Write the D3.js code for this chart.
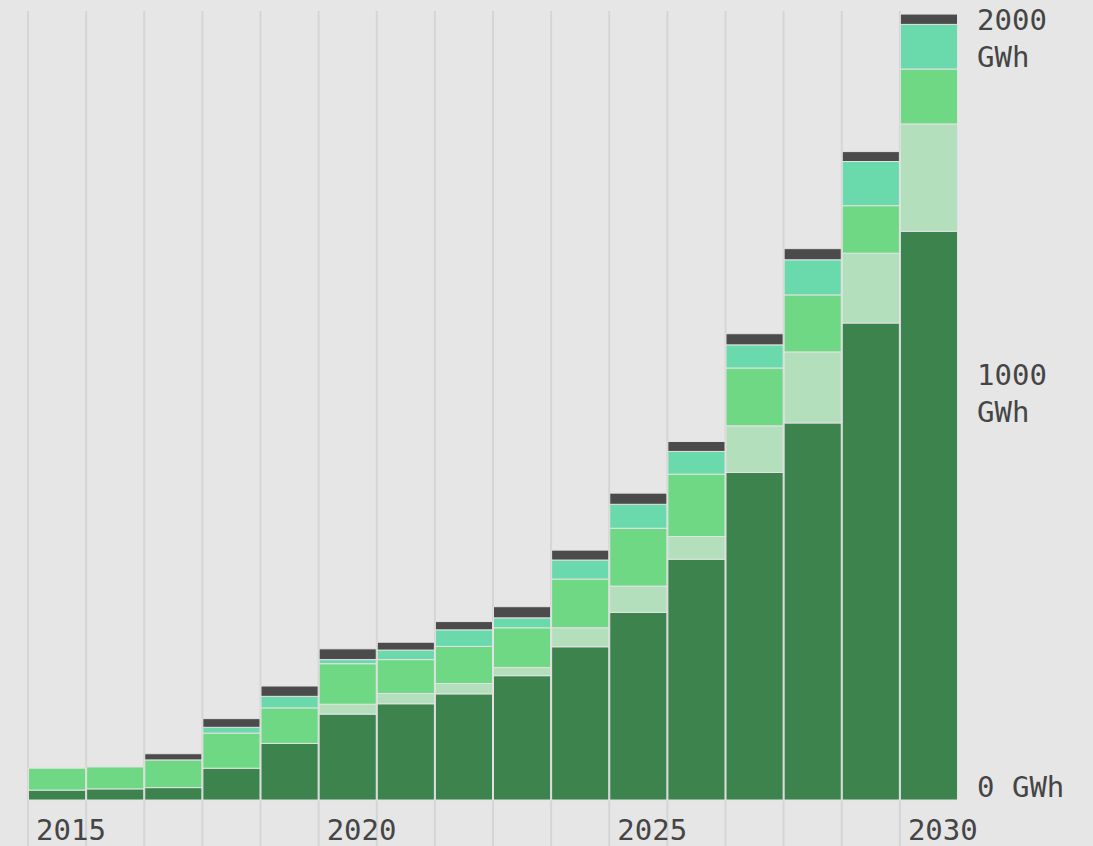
<!DOCTYPE html>
<html>
<head>
<meta charset="utf-8">
<script src="https://cdn.jsdelivr.net/npm/d3@7"></script>
<style>
  body { margin: 0; background: #e6e6e6; }
  svg { display: block; }
  text { font-family: "DejaVu Sans Mono", monospace; fill: #454545; }
</style>
</head>
<body>
<svg width="1093" height="846"></svg>
<script>
const WIDTH = 1093
const HEIGHT = 846

// yearly values, GWh
const years = [2015, 2016, 2017, 2018, 2019, 2020, 2021, 2022, 2023, 2024, 2025, 2026, 2027, 2028, 2029, 2030]
const darkGreen = [24, 27, 30, 77, 137, 208, 233, 257, 301, 371, 454, 583, 793, 913, 1155, 1377]
const paleGreen = [0, 0, 0, 0, 0, 24, 25, 25, 20, 46, 64, 55, 113, 172, 169, 260]
const midGreen = [53, 53, 67, 85, 86, 98, 82, 90, 96, 118, 140, 151, 140, 138, 115, 133]
const teal = [0, 0, 0, 14, 28, 10, 23, 40, 24, 46, 58, 55, 56, 85, 107, 108]
const darkGrey = [0, 0, 15, 21, 25, 26, 19, 20, 27, 24, 27, 24, 27, 27, 24, 25]

const yTicks = [0, 1000, 2000]
const xTickYears = [2015, 2020, 2025, 2030]

const layerKeys = ['darkGreen', 'paleGreen', 'midGreen', 'teal', 'darkGrey']
const layerColors = ['#3c834e', '#b3dfbd', '#6fd884', '#6ad9ac', '#4b4b4b']

const rows = years.map((yr, i) => ({
  year: yr,
  darkGreen: darkGreen[i],
  paleGreen: paleGreen[i],
  midGreen: midGreen[i],
  teal: teal[i],
  darkGrey: darkGrey[i]
}))

const svg = d3.select('svg')

const x = d3.scaleBand()
  .domain(years)
  .range([28, 958])
  .padding(0)

const y = d3.scaleLinear()
  .domain([0, 2000])
  .range([800, -26])

// vertical grid lines at the left edge of each bar
svg.append('g')
  .selectAll('line')
  .data(years)
  .enter()
  .append('line')
  .attr('x1', d => x(d))
  .attr('x2', d => x(d))
  .attr('y1', 11)
  .attr('y2', HEIGHT)
  .style('stroke', '#d5d5d5')
  .style('stroke-width', 2)

const stacked = d3.stack().keys(layerKeys)(rows)

svg.append('g')
  .selectAll('g')
  .data(stacked)
  .enter()
  .append('g')
  .style('fill', (d, i) => layerColors[i])
  .selectAll('rect')
  .data(d => d.filter(p => p[1] - p[0] > 0))
  .enter()
  .append('rect')
  .attr('x', d => x(d.data.year) + 0.5)
  .attr('width', x.bandwidth() - 1)
  .attr('y', d => y(d[1]))
  .attr('height', d => y(d[0]) - y(d[1]))
  .style('stroke', '#e2e2e2')
  .style('stroke-width', 1)

// year labels
svg.append('g')
  .selectAll('text')
  .data(xTickYears)
  .enter()
  .append('text')
  .attr('x', d => x(d) + 8)
  .attr('y', 840)
  .style('font-size', '29px')
  .text(d => d)

// value labels on the right, kept inside the view at the top
const yLab = svg.append('g')
  .selectAll('text')
  .data(yTicks)
  .enter()
  .append('text')
  .attr('x', 977)
  .attr('y', d => Math.max(y(d) - 2, 30))
  .style('font-size', '29px')

yLab.each(function(d) {
  const t = d3.select(this)
  if (d === 0) {
    t.attr('y', y(d) - 3).text('0 GWh')
  } else {
    t.append('tspan').attr('x', 977).text(d)
    t.append('tspan').attr('x', 977).attr('dy', 37).text('GWh')
  }
})
</script>
</body>
</html>
